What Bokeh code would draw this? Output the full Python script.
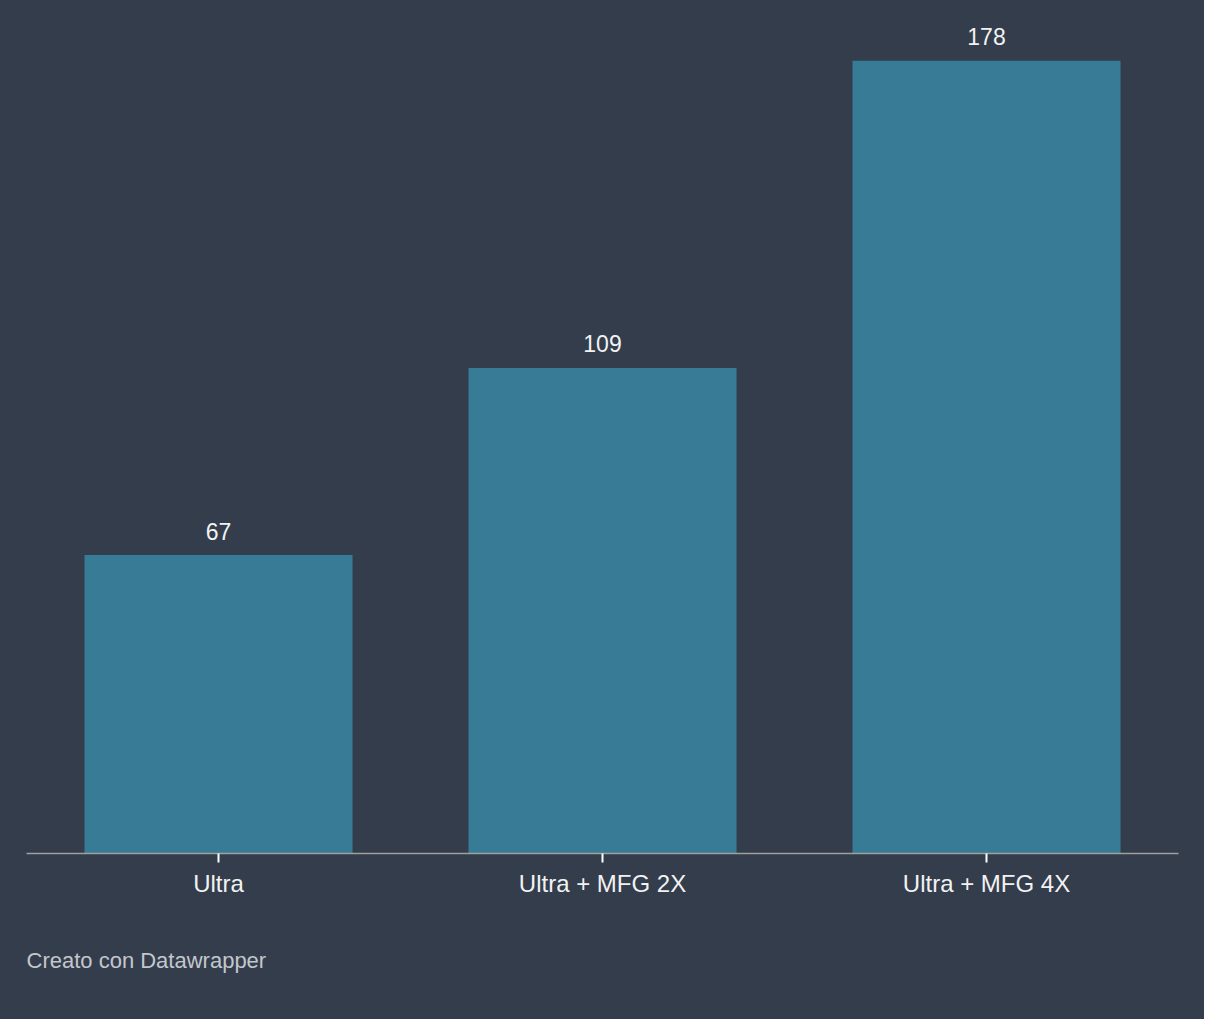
from bokeh.plotting import figure
from bokeh.models import ColumnDataSource, Range1d, Title, FactorRange
from bokeh.embed import file_html
from bokeh.resources import INLINE
from bokeh.core.properties import value

categories = ["Ultra", "Ultra + MFG 2X", "Ultra + MFG 4X"]
values = [67, 109, 178]
labels = [str(v) for v in values]

BG = "#333d4c"
BAR = "#387b96"
FONT = "Liberation Sans"

src = ColumnDataSource(dict(cat=categories, val=values, lab=labels))

p = figure(x_range=FactorRange(*categories, range_padding=0.0), y_range=Range1d(0, 191.5),
           width=1204, height=1019, output_backend="svg", toolbar_location=None,
           min_border_left=26, min_border_right=26, min_border_top=0, min_border_bottom=166)
p.styles = {"background-color": BG}
p.x_range.range_padding = 0
p.vbar(x="cat", top="val", width=0.698, source=src, color=BAR, line_color=None)
p.text(x="cat", y="val", text="lab", source=src, text_align="center", text_baseline="alphabetic",
       y_offset=-24, text_color="#f2f2f2", text_font=value(FONT), text_font_size="23px")

p.background_fill_color = BG
p.border_fill_color = BG
p.outline_line_color = None
p.grid.visible = False
p.yaxis.visible = False

ax = p.xaxis[0]
ax.axis_line_color = "#a0a0a0"
ax.axis_line_width = 1.5
ax.major_tick_line_color = "#ffffff"
ax.major_tick_line_width = 2
ax.major_tick_out = 9
ax.major_tick_in = 0
ax.minor_tick_line_color = None
ax.major_label_text_color = "#f2f2f2"
ax.major_label_text_font = FONT
ax.major_label_text_font_size = "24px"
ax.major_label_standoff = 7

p.add_layout(Title(text="Creato con Datawrapper", align="left", text_font_size="22px",
                   text_color="#c3c7cc", text_font=FONT, text_font_style="normal",
                   standoff=93), "below")

html = file_html(p, INLINE)
html = html.replace("<body>", '<body style="background:%s;margin:8px">' % BG, 1)
open("out.html", "w").write(html)
